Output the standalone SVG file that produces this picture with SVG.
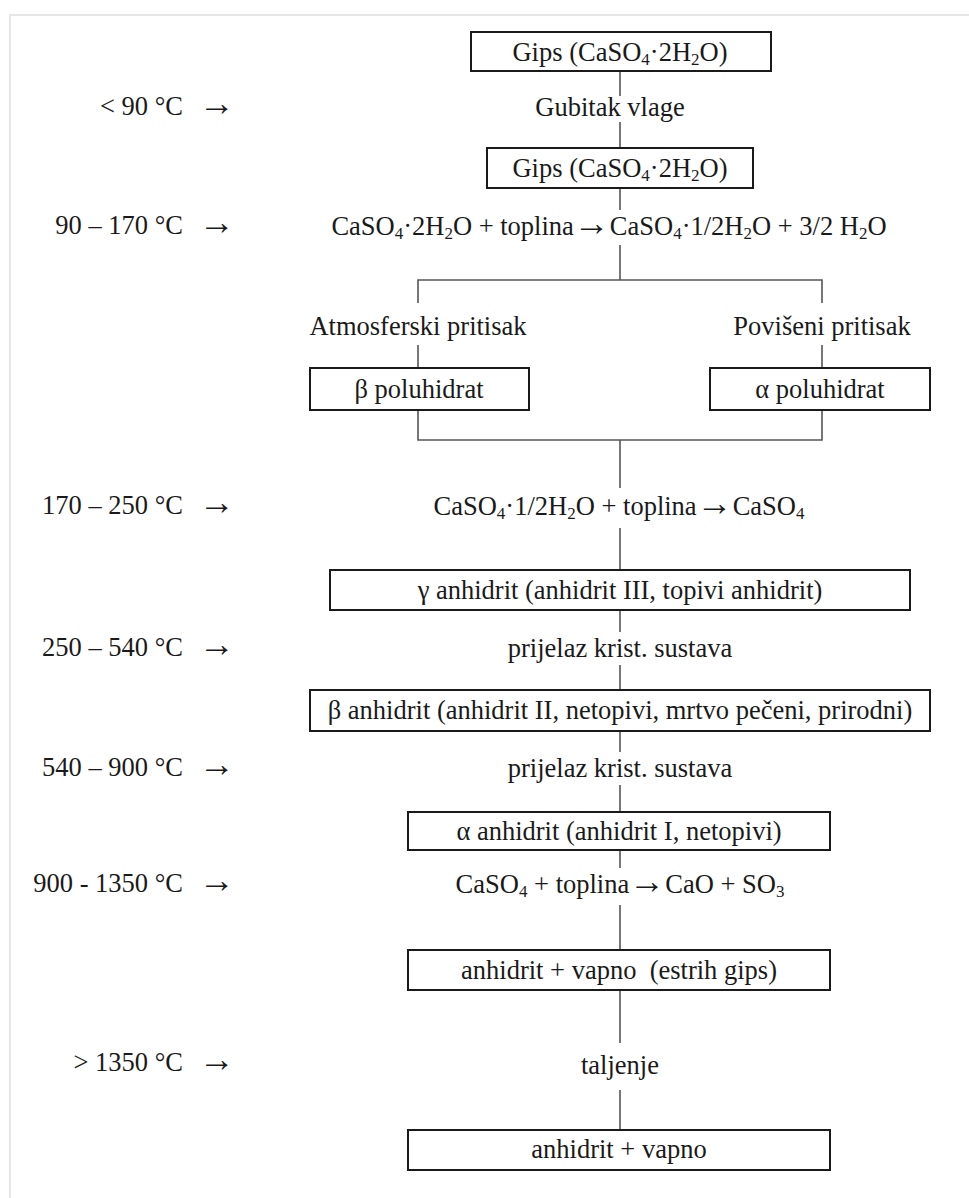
<svg xmlns="http://www.w3.org/2000/svg" width="969" height="1198" viewBox="0 0 969 1198">
<style>
text{font-family:"Liberation Serif","Times New Roman",Times,serif;font-size:26.5px;fill:#1a1a1a}
.c{text-anchor:middle}
.e{text-anchor:end}
.box{fill:#fff;stroke:#1a1a1a;stroke-width:2}
.ln{stroke:#555;stroke-width:1.6;fill:none}
.sub{font-size:17px}
.ar{font-family:"Liberation Serif",serif;font-size:36px}
</style>
<rect width="969" height="1198" fill="#fff"/>
<polyline points="10,1198 10,15 969,15" fill="none" stroke="#e6e6e6" stroke-width="2"/>

<g id="connectors">
<line class="ln" x1="620" y1="71" x2="620" y2="96"/>
<line class="ln" x1="620" y1="122" x2="620" y2="148"/>
<line class="ln" x1="620" y1="188" x2="620" y2="210"/>
<line class="ln" x1="620" y1="245" x2="620" y2="280"/>
<polyline class="ln" points="418,303 418,280 822,280 822,303"/>
<line class="ln" x1="418" y1="345" x2="418" y2="368"/>
<line class="ln" x1="822" y1="345" x2="822" y2="368"/>
<polyline class="ln" points="418,410 418,440 822,440 822,410"/>
<line class="ln" x1="620" y1="440" x2="620" y2="488"/>
<line class="ln" x1="620" y1="528" x2="620" y2="570"/>
<line class="ln" x1="620" y1="610" x2="620" y2="632"/>
<line class="ln" x1="620" y1="665" x2="620" y2="690"/>
<line class="ln" x1="620" y1="731" x2="620" y2="752"/>
<line class="ln" x1="620" y1="785" x2="620" y2="812"/>
<line class="ln" x1="620" y1="850" x2="620" y2="868"/>
<line class="ln" x1="620" y1="905" x2="620" y2="950"/>
<line class="ln" x1="620" y1="990" x2="620" y2="1043"/>
<line class="ln" x1="620" y1="1090" x2="620" y2="1130"/>
</g>

<g id="temps">
<text class="e" x="183" y="115">&lt; 90 °C</text><text class="ar" x="199" y="115">→</text>
<text class="e" x="183" y="234">90 – 170 °C</text><text class="ar" x="199" y="234">→</text>
<text class="e" x="183" y="514">170 – 250 °C</text><text class="ar" x="199" y="514">→</text>
<text class="e" x="183" y="656">250 – 540 °C</text><text class="ar" x="199" y="656">→</text>
<text class="e" x="183" y="776">540 – 900 °C</text><text class="ar" x="199" y="776">→</text>
<text class="e" x="183" y="892">900 - 1350 °C</text><text class="ar" x="199" y="892">→</text>
<text class="e" x="183" y="1071">&gt; 1350 °C</text><text class="ar" x="199" y="1071">→</text>
</g>

<g id="n1"><rect class="box" x="471" y="32" width="300" height="39"/>
<text class="c" x="620" y="61">Gips (CaSO<tspan class="sub" dy="4">4</tspan><tspan dy="-4">·2H</tspan><tspan class="sub" dy="4">2</tspan><tspan dy="-4">O)</tspan></text></g>

<g id="step1"><text class="c" x="610" y="116">Gubitak vlage</text></g>

<g id="n2"><rect class="box" x="487" y="148" width="266" height="40"/>
<text class="c" x="620" y="177">Gips (CaSO<tspan class="sub" dy="4">4</tspan><tspan dy="-4">·2H</tspan><tspan class="sub" dy="4">2</tspan><tspan dy="-4">O)</tspan></text></g>

<g id="step2"><text class="c" x="609" y="235">CaSO<tspan class="sub" dy="4">4</tspan><tspan dy="-4">·2H</tspan><tspan class="sub" dy="4">2</tspan><tspan dy="-4">O + toplina</tspan><tspan class="ar">→</tspan><tspan>CaSO</tspan><tspan class="sub" dy="4">4</tspan><tspan dy="-4">·1/2H</tspan><tspan class="sub" dy="4">2</tspan><tspan dy="-4">O + 3/2 H</tspan><tspan class="sub" dy="4">2</tspan><tspan dy="-4">O</tspan></text></g>

<g id="p1"><text class="c" x="418" y="335">Atmosferski pritisak</text></g>
<g id="p2"><text class="c" x="822" y="335">Povišeni pritisak</text></g>

<g id="n3"><rect class="box" x="310" y="368" width="219" height="42"/>
<text class="c" x="419" y="398">β poluhidrat</text></g>
<g id="n4"><rect class="box" x="710" y="368" width="220" height="42"/>
<text class="c" x="820" y="398">α poluhidrat</text></g>

<g id="step3"><text class="c" x="619" y="515">CaSO<tspan class="sub" dy="4">4</tspan><tspan dy="-4">·1/2H</tspan><tspan class="sub" dy="4">2</tspan><tspan dy="-4">O + toplina</tspan><tspan class="ar">→</tspan><tspan>CaSO</tspan><tspan class="sub" dy="4">4</tspan></text></g>

<g id="n5"><rect class="box" x="330" y="570" width="580" height="40"/>
<text class="c" x="620" y="599">γ anhidrit (anhidrit III, topivi anhidrit)</text></g>

<g id="step4"><text class="c" x="620" y="657">prijelaz krist. sustava</text></g>

<g id="n6"><rect class="box" x="310" y="690" width="620" height="41"/>
<text class="c" x="620" y="719">β anhidrit (anhidrit II, netopivi, mrtvo pečeni, prirodni)</text></g>

<g id="step5"><text class="c" x="620" y="777">prijelaz krist. sustava</text></g>

<g id="n7"><rect class="box" x="408" y="812" width="422" height="38"/>
<text class="c" x="619" y="840">α anhidrit (anhidrit I, netopivi)</text></g>

<g id="step6"><text class="c" x="620" y="893">CaSO<tspan class="sub" dy="4">4</tspan><tspan dy="-4"> + toplina</tspan><tspan class="ar">→</tspan><tspan>CaO + SO</tspan><tspan class="sub" dy="4">3</tspan></text></g>

<g id="n8"><rect class="box" x="408" y="950" width="422" height="40"/>
<text class="c" x="619" y="979" xml:space="preserve">anhidrit + vapno  (estrih gips)</text></g>

<g id="step7"><text class="c" x="620" y="1074">taljenje</text></g>

<g id="n9"><rect class="box" x="408" y="1130" width="422" height="40"/>
<text class="c" x="619" y="1158">anhidrit + vapno</text></g>
</svg>
